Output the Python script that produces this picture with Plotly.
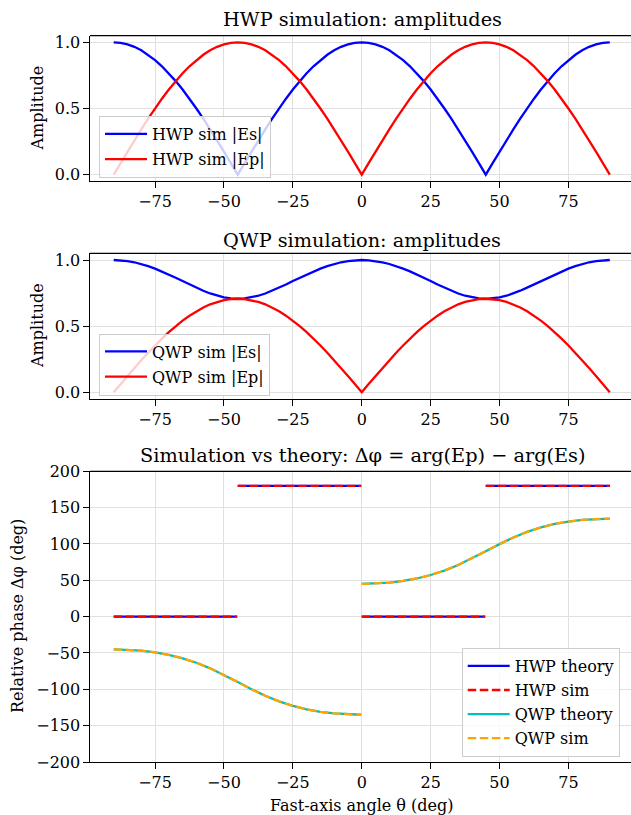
import plotly.graph_objects as go

# ---------------- data ----------------
theta = [-90, -87.5, -85, -82.5, -80, -77.5, -75, -72.5, -70, -67.5, -65, -62.5, -60, -57.5, -55, -52.5,
         -50, -47.5, -45, -42.5, -40, -37.5, -35, -32.5, -30, -27.5, -25, -22.5, -20, -17.5, -15, -12.5,
         -10, -7.5, -5, -2.5, 0, 2.5, 5, 7.5, 10, 12.5, 15, 17.5, 20, 22.5, 25, 27.5, 30, 32.5, 35, 37.5,
         40, 42.5, 45, 47.5, 50, 52.5, 55, 57.5, 60, 62.5, 65, 67.5, 70, 72.5, 75, 77.5, 80, 82.5, 85,
         87.5, 90]

hwp_es = [1.000, 0.996, 0.985, 0.966, 0.940, 0.906, 0.866, 0.819, 0.766, 0.707, 0.643, 0.574, 0.500,
          0.423, 0.342, 0.259, 0.174, 0.087, 0.000,
          0.087, 0.174, 0.259, 0.342, 0.423, 0.500, 0.574, 0.643, 0.707, 0.766, 0.819, 0.866, 0.906,
          0.940, 0.966, 0.985, 0.996, 1.000,
          0.996, 0.985, 0.966, 0.940, 0.906, 0.866, 0.819, 0.766, 0.707, 0.643, 0.574, 0.500, 0.423,
          0.342, 0.259, 0.174, 0.087, 0.000,
          0.087, 0.174, 0.259, 0.342, 0.423, 0.500, 0.574, 0.643, 0.707, 0.766, 0.819, 0.866, 0.906,
          0.940, 0.966, 0.985, 0.996, 1.000]
hwp_ep = [0.000, 0.087, 0.174, 0.259, 0.342, 0.423, 0.500, 0.574, 0.643, 0.707, 0.766, 0.819, 0.866,
          0.906, 0.940, 0.966, 0.985, 0.996, 1.000,
          0.996, 0.985, 0.966, 0.940, 0.906, 0.866, 0.819, 0.766, 0.707, 0.643, 0.574, 0.500, 0.423,
          0.342, 0.259, 0.174, 0.087, 0.000,
          0.087, 0.174, 0.259, 0.342, 0.423, 0.500, 0.574, 0.643, 0.707, 0.766, 0.819, 0.866, 0.906,
          0.940, 0.966, 0.985, 0.996, 1.000,
          0.996, 0.985, 0.966, 0.940, 0.906, 0.866, 0.819, 0.766, 0.707, 0.643, 0.574, 0.500, 0.423,
          0.342, 0.259, 0.174, 0.087, 0.000]

qwp_es = [1.000, 0.998, 0.992, 0.983, 0.970, 0.954, 0.935, 0.914, 0.891, 0.866, 0.841, 0.815, 0.791,
          0.768, 0.747, 0.730, 0.718, 0.710, 0.707,
          0.710, 0.718, 0.730, 0.747, 0.768, 0.791, 0.815, 0.841, 0.866, 0.891, 0.914, 0.935, 0.954,
          0.970, 0.983, 0.992, 0.998, 1.000,
          0.998, 0.992, 0.983, 0.970, 0.954, 0.935, 0.914, 0.891, 0.866, 0.841, 0.815, 0.791, 0.768,
          0.747, 0.730, 0.718, 0.710, 0.707,
          0.710, 0.718, 0.730, 0.747, 0.768, 0.791, 0.815, 0.841, 0.866, 0.891, 0.914, 0.935, 0.954,
          0.970, 0.983, 0.992, 0.998, 1.000]
qwp_ep = [0.000, 0.062, 0.123, 0.183, 0.242, 0.299, 0.354, 0.406, 0.455, 0.500, 0.542, 0.579, 0.612,
          0.641, 0.665, 0.683, 0.696, 0.704, 0.707,
          0.704, 0.696, 0.683, 0.665, 0.641, 0.612, 0.579, 0.542, 0.500, 0.455, 0.406, 0.354, 0.299,
          0.242, 0.183, 0.123, 0.062, 0.000,
          0.062, 0.123, 0.183, 0.242, 0.299, 0.354, 0.406, 0.455, 0.500, 0.542, 0.579, 0.612, 0.641,
          0.665, 0.683, 0.696, 0.704, 0.707,
          0.704, 0.696, 0.683, 0.665, 0.641, 0.612, 0.579, 0.542, 0.500, 0.455, 0.406, 0.354, 0.299,
          0.242, 0.183, 0.123, 0.062, 0.000]

# relative phase, HWP: piecewise constant segments
hwp_seg_theta = [[-90, -45.2], [-45, -0.2], [0, 44.8], [45, 90]]
hwp_seg_phase = [0, 180, 0, 180]

# relative phase, QWP: two branches
theta_neg = [-90, -85, -80, -75, -70, -65, -60, -55, -50, -45, -40, -35, -30, -25, -20, -15, -10, -5, -0.2]
qwp_phase_neg = [-45.0, -45.4, -46.8, -49.1, -52.5, -57.3, -63.4, -71.1, -80.2, -90.0,
                 -99.8, -108.9, -116.6, -122.7, -127.5, -130.9, -133.2, -134.6, -135.0]
theta_pos = [0, 5, 10, 15, 20, 25, 30, 35, 40, 45, 50, 55, 60, 65, 70, 75, 80, 85, 90]
qwp_phase_pos = [45.0, 45.4, 46.8, 49.1, 52.5, 57.3, 63.4, 71.1, 80.2, 90.0,
                 99.8, 108.9, 116.6, 122.7, 127.5, 130.9, 133.2, 134.6, 135.0]

x_ticks = [-75, -50, -25, 0, 25, 50, 75]
amp_ticks = [0.0, 0.5, 1.0]
phase_ticks = [-200, -150, -100, -50, 0, 50, 100, 150, 200]

# ---------------- figure ----------------
W, H = 631, 815
FONT = "DejaVu Serif"
TICK = 16.0
TITLE = 19.3
LW = 2.3
DASH = "8.5px,3.6px"


def fx(px):
    return px / W


def fy(py):
    return 1 - py / H


def minus(v, fmt="{:g}"):
    return fmt.format(v).replace("-", "\u2212")


hwp_x, hwp_y = [], []
for seg, val in zip(hwp_seg_theta, hwp_seg_phase):
    if hwp_x:
        hwp_x.append(None)
        hwp_y.append(None)
    hwp_x += seg
    hwp_y += [val, val]

qwp_x = theta_neg + [None] + theta_pos
qwp_y = qwp_phase_neg + [None] + qwp_phase_pos

fig = go.Figure()


def line(x, y, name, color, axis, legend, dash="solid"):
    fig.add_trace(go.Scatter(
        x=x, y=y, mode="lines", name=name,
        line=dict(color=color, width=LW, dash=dash),
        xaxis="x" + axis, yaxis="y" + axis,
        legend=legend, legendgroup=name, connectgaps=False,
        hoverinfo="skip"))


line(theta, hwp_es, "HWP sim |Es|", "#0000ff", "", "legend")
line(theta, hwp_ep, "HWP sim |Ep|", "#ff0000", "", "legend")
line(theta, qwp_es, "QWP sim |Es|", "#0000ff", "2", "legend2")
line(theta, qwp_ep, "QWP sim |Ep|", "#ff0000", "2", "legend2")
line(hwp_x, hwp_y, "HWP theory", "#0000ff", "3", "legend3")
line(hwp_x, hwp_y, "HWP sim", "#ff0000", "3", "legend3", dash=DASH)
line(qwp_x, qwp_y, "QWP theory", "#00bfbf", "3", "legend3")
line(qwp_x, qwp_y, "QWP sim", "#ffa500", "3", "legend3", dash=DASH)

X_RANGE = [-98.6, 97.7]
x_dom = [fx(90), 1.0]
panels = [  # (top px, bottom px)
    (35.7, 181.3),
    (253.4, 398.9),
    (471.3, 762.0),
]

axis_common = dict(
    showline=True, linecolor="#000000", linewidth=1.2,
    ticks="outside", ticklen=5.5, tickwidth=1.2, tickcolor="#000000",
    showgrid=True, gridcolor="#e0e0e0", gridwidth=1.1,
    zeroline=False, tickfont=dict(family=FONT, size=TICK, color="#000000"),
    fixedrange=True, automargin=False,
)

layout_axes = {}
for i, (top, bot) in enumerate(panels):
    sfx = "" if i == 0 else str(i + 1)
    layout_axes["xaxis" + sfx] = dict(
        axis_common, domain=x_dom, range=X_RANGE, anchor="y" + sfx,
        tickvals=x_ticks, ticktext=[minus(v) for v in x_ticks])
    if i < 2:
        yr = [-0.05, 1.05]
        tv = amp_ticks
        tt = ["{:.1f}".format(v) for v in amp_ticks]
    else:
        yr = [-200, 200]
        tv = phase_ticks
        tt = [minus(v) for v in phase_ticks]
    layout_axes["yaxis" + sfx] = dict(
        axis_common, domain=[fy(bot), fy(top)], range=yr, anchor="x" + sfx,
        tickvals=tv, ticktext=tt)

shapes = []
for i in range(3):
    sfx = "" if i == 0 else str(i + 1)
    shapes.append(dict(type="line", xref="x" + sfx + " domain", yref="y" + sfx + " domain",
                       x0=0, x1=1, y0=1, y1=1, line=dict(color="#000000", width=1.2)))

cx = fx(362)
annotations = [
    dict(text="HWP simulation: amplitudes", x=cx, y=fy(20.0), size=TITLE),
    dict(text="QWP simulation: amplitudes", x=cx, y=fy(240.0), size=TITLE),
    dict(text="Simulation vs theory: \u0394\u03c6 = arg(Ep) \u2212 arg(Es)", x=cx, y=fy(455.7), size=TITLE),
    dict(text="Fast-axis angle \u03b8 (deg)", x=cx, y=fy(805.0), size=TICK),
    dict(text="Amplitude", x=fx(37), y=fy(108.5), size=TICK, angle=-90),
    dict(text="Amplitude", x=fx(37), y=fy(326), size=TICK, angle=-90),
    dict(text="Relative phase \u0394\u03c6 (deg)", x=fx(17.5), y=fy(616.6), size=TICK, angle=-90),
]
ann_list = []
for a in annotations:
    ann_list.append(dict(
        text=a["text"], x=a["x"], y=a["y"], xref="paper", yref="paper",
        xanchor="center", yanchor="middle", showarrow=False,
        textangle=a.get("angle", 0),
        font=dict(family=FONT, size=a["size"], color="#000000")))

legend_common = dict(
    xanchor="left", yanchor="top", bgcolor="rgba(255,255,255,0.8)",
    bordercolor="#cccccc", borderwidth=1,
    font=dict(family=FONT, size=TICK, color="#000000"),
    tracegroupgap=1.5, itemwidth=42,
)

fig.update_layout(
    width=W, height=H, margin=dict(l=0, r=0, t=0, b=0, autoexpand=False),
    paper_bgcolor="#ffffff", plot_bgcolor="#ffffff",
    showlegend=True,
    legend=dict(legend_common, x=fx(99), y=fy(116.0)),
    legend2=dict(legend_common, x=fx(99), y=fy(333.5)),
    legend3=dict(legend_common, x=fx(461.7), y=fy(648.0), tracegroupgap=0.3),
    shapes=shapes, annotations=ann_list,
    **layout_axes,
)

fig.write_html("out.html")
